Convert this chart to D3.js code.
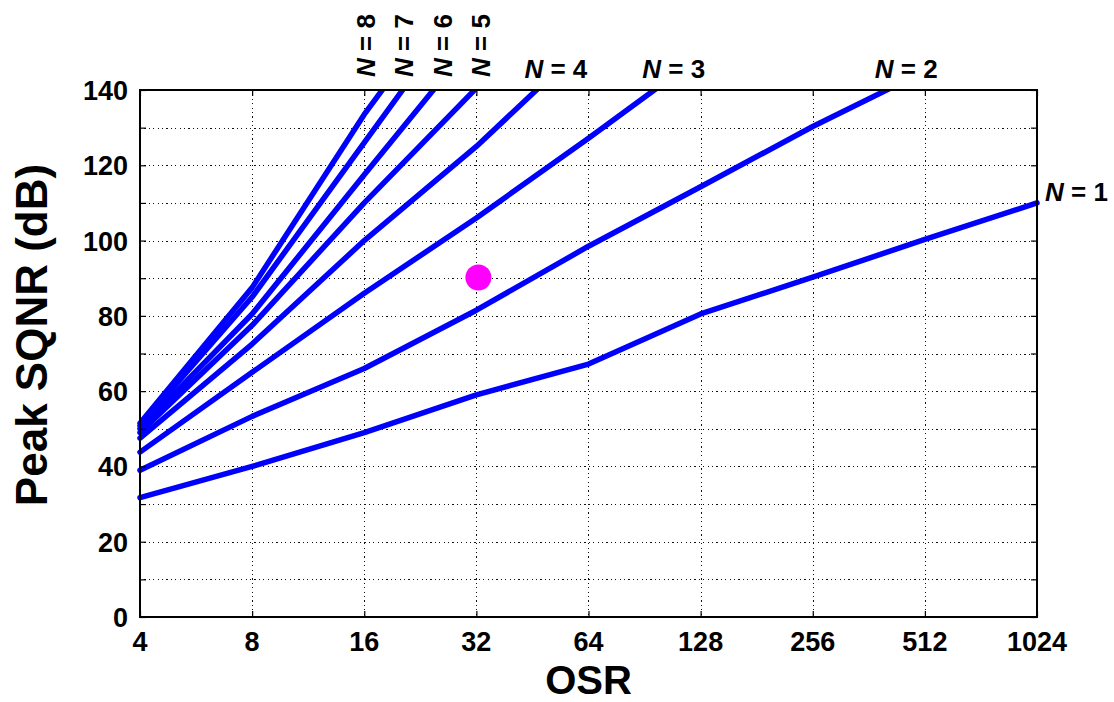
<!DOCTYPE html>
<html>
<head>
<meta charset="utf-8">
<script src="https://cdn.jsdelivr.net/npm/d3@7"></script>
<style>
  html, body { margin: 0; padding: 0; background: #fff; }
  svg { display: block; }
  text { font-family: "Liberation Sans", Arial, Helvetica, sans-serif; font-weight: bold; fill: #000; }
</style>
</head>
<body>
<svg id="chart" width="1114" height="702"></svg>
<script>
// ---- data ----
const osr = [4, 8, 16, 32, 64, 128, 256, 512, 1024];
const sqnrN1 = [31.7, 40.0, 49.0, 59.0, 67.2, 80.5, 90.3, 100.3, 110.0];
const sqnrN2 = [39.0, 53.3, 66.0, 81.5, 98.5, 114.3, 130.3, 145.0];
const sqnrN3 = [43.8, 65.0, 86.0, 106.0, 127.2, 149.0];
const sqnrN4 = [47.5, 72.5, 100.0, 125.0, 153.0];
const sqnrN5 = [49.0, 77.5, 110.0, 140.5, 170.0];
const sqnrN6 = [50.0, 80.5, 117.5, 154.0];
const sqnrN7 = [50.8, 85.0, 126.0, 167.0];
const sqnrN8 = [51.5, 87.5, 133.5, 174.0];
const seriesNames = ["N = 1", "N = 2", "N = 3", "N = 4", "N = 5", "N = 6", "N = 7", "N = 8"];
const markerPoint = [32.4, 90.2];
const xTickLabels = ["4", "8", "16", "32", "64", "128", "256", "512", "1024"];
const yTickLabels = ["0", "20", "40", "60", "80", "100", "120", "140"];
const xTitle = "OSR";
const yTitle = "Peak SQNR (dB)";

// ---- layout ----
const L = 140, R = 1037, T = 90, B = 617;
const svg = d3.select("#chart");
const x = d3.scaleLog().base(2).domain([4, 1024]).range([L, R]);
const y = d3.scaleLinear().domain([0, 140]).range([B, T]);

const allSeries = [sqnrN1, sqnrN2, sqnrN3, sqnrN4, sqnrN5, sqnrN6, sqnrN7, sqnrN8];

// grid
const grid = svg.append("g").attr("stroke", "#111").attr("stroke-width", 1)
  .attr("stroke-dasharray", "1.2,3.2").attr("shape-rendering", "crispEdges");
osr.slice(1, -1).forEach(v => {
  grid.append("line").attr("x1", Math.round(x(v)) + 0.5).attr("x2", Math.round(x(v)) + 0.5)
    .attr("y1", T).attr("y2", B);
});
d3.range(10, 140, 10).forEach(v => {
  grid.append("line").attr("y1", Math.round(y(v)) + 0.5).attr("y2", Math.round(y(v)) + 0.5)
    .attr("x1", L).attr("x2", R);
});

// clip
svg.append("clipPath").attr("id", "plotclip").append("rect")
  .attr("x", L - 6).attr("y", T).attr("width", R - L + 12).attr("height", B - T + 6);

// curves
const line = d3.line().x(d => x(d[0])).y(d => y(d[1]));
const curves = svg.append("g").attr("clip-path", "url(#plotclip)");
allSeries.forEach(s => {
  curves.append("path")
    .datum(s.map((v, i) => [osr[i], v]))
    .attr("d", line)
    .attr("fill", "none")
    .attr("stroke", "#0000ff")
    .attr("stroke-width", 5.5)
    .attr("stroke-linejoin", "round")
    .attr("stroke-linecap", "round");
});

// marker
svg.append("circle").attr("cx", x(markerPoint[0])).attr("cy", y(markerPoint[1]))
  .attr("r", 13).attr("fill", "#ff00ff");

// axes box and inward ticks
const axisG = svg.append("g");
const xAxisB = d3.axisBottom(x).tickValues(osr).tickSize(-6).tickFormat("");
const xAxisT = d3.axisTop(x).tickValues(osr).tickSize(-6).tickFormat("");
const yAxisL = d3.axisLeft(y).tickValues(d3.range(0, 141, 10)).tickSize(-6).tickFormat("");
const yAxisR = d3.axisRight(y).tickValues(d3.range(0, 141, 10)).tickSize(-6).tickFormat("");
[[xAxisB, `translate(0,${B})`], [xAxisT, `translate(0,${T})`],
 [yAxisL, `translate(${L},0)`], [yAxisR, `translate(${R},0)`]].forEach(([ax, tr]) => {
  const g = axisG.append("g").attr("transform", tr).call(ax);
  g.select(".domain").remove();
  g.selectAll("line").attr("stroke", "#000").attr("stroke-width", 1.2);
});
axisG.append("rect").attr("x", L).attr("y", T).attr("width", R - L).attr("height", B - T)
  .attr("fill", "none").attr("stroke", "#000").attr("stroke-width", 2);

// tick labels
xTickLabels.forEach((t, i) => {
  svg.append("text").attr("x", x(osr[i])).attr("y", 651).attr("text-anchor", "middle")
    .attr("font-size", 27).text(t);
});
yTickLabels.forEach((t, i) => {
  svg.append("text").attr("x", 128).attr("y", y(i * 20) + 10).attr("text-anchor", "end")
    .attr("font-size", 27).text(t);
});

// axis titles
svg.append("text").attr("x", (L + R) / 2).attr("y", 693.5).attr("text-anchor", "middle")
  .attr("font-size", 40).text(xTitle);
svg.append("text").attr("transform", "translate(47,335) rotate(-90)")
  .attr("text-anchor", "middle").attr("font-size", 44).text(yTitle);

// series labels
function nLabel(g, name) {
  const parts = name.split("N");
  g.append("tspan").attr("font-style", "italic").text("N");
  g.append("tspan").text(parts[1]);
}
// N=1 at right end
{
  const t = svg.append("text").attr("x", R + 8).attr("y", y(sqnrN1[sqnrN1.length - 1]) - 2)
    .attr("font-size", 26);
  nLabel(t, seriesNames[0]);
}
// N=2..4 horizontal above where lines reach the top
[[sqnrN2, 1], [sqnrN3, 2], [sqnrN4, 3]].forEach(([s, k]) => {
  let xc = null;
  for (let i = 1; i < s.length; i++) {
    if (s[i] >= 140 && s[i - 1] < 140) {
      const f = (140 - s[i - 1]) / (s[i] - s[i - 1]);
      xc = x(osr[i - 1]) + f * (x(osr[i]) - x(osr[i - 1]));
    }
  }
  const t = svg.append("text").attr("x", xc - 12).attr("y", 78).attr("font-size", 26);
  nLabel(t, seriesNames[k]);
});
// N=5..8 vertical labels
[4, 5, 6, 7].forEach(k => {
  const cx = 480 - (k - 4) * 38.5;
  const t = svg.append("text").attr("transform", `translate(${cx + 10},77) rotate(-90)`)
    .attr("font-size", 26);
  nLabel(t, seriesNames[k]);
});
</script>
</body>
</html>
